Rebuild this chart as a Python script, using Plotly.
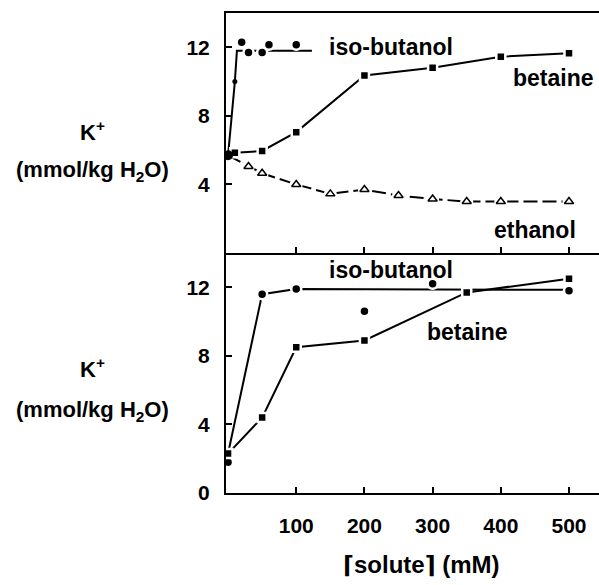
import plotly.graph_objects as go

# ---- data (K+ content, mmol/kg H2O, vs solute concentration, mM) ----
# upper panel
top_control_x = [0]
top_control_y = [5.7]

top_isobut_x = [20, 30, 50, 60, 100]
top_isobut_y = [12.3, 11.7, 11.7, 12.15, 12.15]
top_isobut_extra_x = [10]
top_isobut_extra_y = [10.0]
top_isobut_fit_x = [0, 10, 13, 123]
top_isobut_fit_y = [5.7, 10.0, 11.8, 11.8]

top_betaine_x = [0, 10, 50, 100, 200, 300, 400, 500]
top_betaine_y = [5.7, 5.85, 5.95, 7.05, 10.35, 10.8, 11.45, 11.65]

top_ethanol_x = [0, 30, 50, 100, 150, 200, 250, 300, 350, 400, 500]
top_ethanol_y = [5.7, 5.05, 4.65, 4.0, 3.45, 3.7, 3.35, 3.15, 3.0, 3.0, 3.0]

# lower panel
bot_isobut_x = [0, 50, 100, 200, 300, 500]
bot_isobut_y = [1.8, 11.6, 11.9, 10.6, 12.2, 11.8]
bot_isobut_fit_x = [0, 50, 100, 500]
bot_isobut_fit_y = [2.3, 11.6, 11.9, 11.85]

bot_betaine_x = [0, 50, 100, 200, 350, 500]
bot_betaine_y = [2.3, 4.4, 8.5, 8.9, 11.7, 12.5]

x_ticks = [100, 200, 300, 400, 500]
top_y_ticks = [4, 8, 12]
bot_y_ticks = [0, 4, 8, 12]

FONT = "Liberation Sans, Arial, DejaVu Sans, sans-serif"
BLACK = "black"
WHITE = "white"

fig = go.Figure()


def line(x, y, axes, dash="solid"):
    xa, ya = axes
    fig.add_trace(go.Scatter(x=x, y=y, xaxis=xa, yaxis=ya, mode="lines",
                             line=dict(color=BLACK, width=2, dash=dash)))


def points(x, y, axes, symbol, size, fill=BLACK, edge=WHITE, edge_w=2.5):
    xa, ya = axes
    fig.add_trace(go.Scatter(x=x, y=y, xaxis=xa, yaxis=ya, mode="markers",
                             marker=dict(symbol=symbol, size=size, color=fill,
                                         line=dict(color=edge, width=edge_w))))


TOP = ("x2", "y2")
BOT = ("x", "y")

# upper panel: fitted lines first, then the symbols (white rims open small gaps)
line(top_isobut_fit_x, top_isobut_fit_y, TOP)
line(top_betaine_x, top_betaine_y, TOP)
line(top_ethanol_x, top_ethanol_y, TOP, dash="14px,5px")
points(top_isobut_x, top_isobut_y, TOP, "circle", 10)
points(top_isobut_extra_x, top_isobut_extra_y, TOP, "circle", 5, edge_w=0)
points(top_betaine_x[1:], top_betaine_y[1:], TOP, "square", 9)
# white halo under the open triangles, then the triangles themselves
points(top_ethanol_x[1:], top_ethanol_y[1:], TOP, "circle", 13, fill=WHITE, edge_w=0)
points(top_ethanol_x[1:], top_ethanol_y[1:], TOP, "triangle-up", 8, fill=WHITE,
       edge=BLACK, edge_w=1.5)
points(top_control_x, top_control_y, TOP, "circle", 10, edge_w=0)

# lower panel
line(bot_isobut_fit_x, bot_isobut_fit_y, BOT)
line(bot_betaine_x, bot_betaine_y, BOT)
points(bot_isobut_x, bot_isobut_y, BOT, "circle", 10)
points(bot_betaine_x, bot_betaine_y, BOT, "square", 9)

tick_font = dict(family=FONT, size=21, color=BLACK, weight="bold")
axis_common = dict(showgrid=False, zeroline=False, showline=True, linecolor=BLACK,
                   linewidth=2, ticks="inside", ticklen=6, tickwidth=1.5,
                   tickcolor=BLACK, tickfont=tick_font)

fig.update_layout(
    width=599, height=585,
    margin=dict(l=226, r=0, t=13, b=92),
    paper_bgcolor=WHITE, plot_bgcolor=WHITE,
    showlegend=False,
    xaxis=dict(**axis_common, range=[-3, 544], domain=[0, 1], anchor="y",
               tickvals=x_ticks, ticklabelstandoff=13),
    yaxis=dict(**axis_common, range=[0, 14], domain=[0, 0.5], anchor="x",
               tickvals=bot_y_ticks, ticklabelstandoff=10),
    xaxis2=dict(**axis_common, range=[-3, 544], domain=[0, 1], anchor="y2",
                tickvals=x_ticks, showticklabels=False, mirror=True),
    yaxis2=dict(**axis_common, range=[0, 14], domain=[0.5, 1], anchor="x2",
                tickvals=top_y_ticks, ticklabelstandoff=10),
)

label_font = dict(family=FONT, size=23, color=BLACK, weight="bold")
series_labels = [
    ("x2", "y2", 145, 12.0, "iso-butanol"),
    ("x2", "y2", 415, 10.2, "betaine"),
    ("x2", "y2", 387, 1.35, "ethanol"),
    ("x", "y", 145, 13.0, "iso-butanol"),
    ("x", "y", 289, 9.4, "betaine"),
]
for xr, yr, xv, yv, txt in series_labels:
    fig.add_annotation(xref=xr, yref=yr, x=xv, y=yv, text=txt, showarrow=False,
                       xanchor="left", yanchor="middle", font=label_font)

# y-axis titles for each panel
unit_font = dict(family=FONT, size=22, color=BLACK, weight="bold")
for y_k, y_unit in [(0.754, 0.670), (0.260, 0.170)]:
    fig.add_annotation(xref="paper", yref="paper", x=-0.359, y=y_k, text="K<sup>+</sup>",
                       showarrow=False, xanchor="center", yanchor="middle", font=unit_font)
    fig.add_annotation(xref="paper", yref="paper", x=-0.359, y=y_unit,
                       text="(mmol/kg H<sub>2</sub>O)", showarrow=False,
                       xanchor="center", yanchor="middle", font=unit_font)

# x-axis title
fig.add_annotation(xref="paper", yref="paper", x=0.523, y=-0.148,
                   text="\u2308solute\u2309 (mM)", showarrow=False,
                   xanchor="center", yanchor="middle",
                   font=dict(family=FONT, size=24, color=BLACK, weight="bold"))

fig.write_html("out.html")
